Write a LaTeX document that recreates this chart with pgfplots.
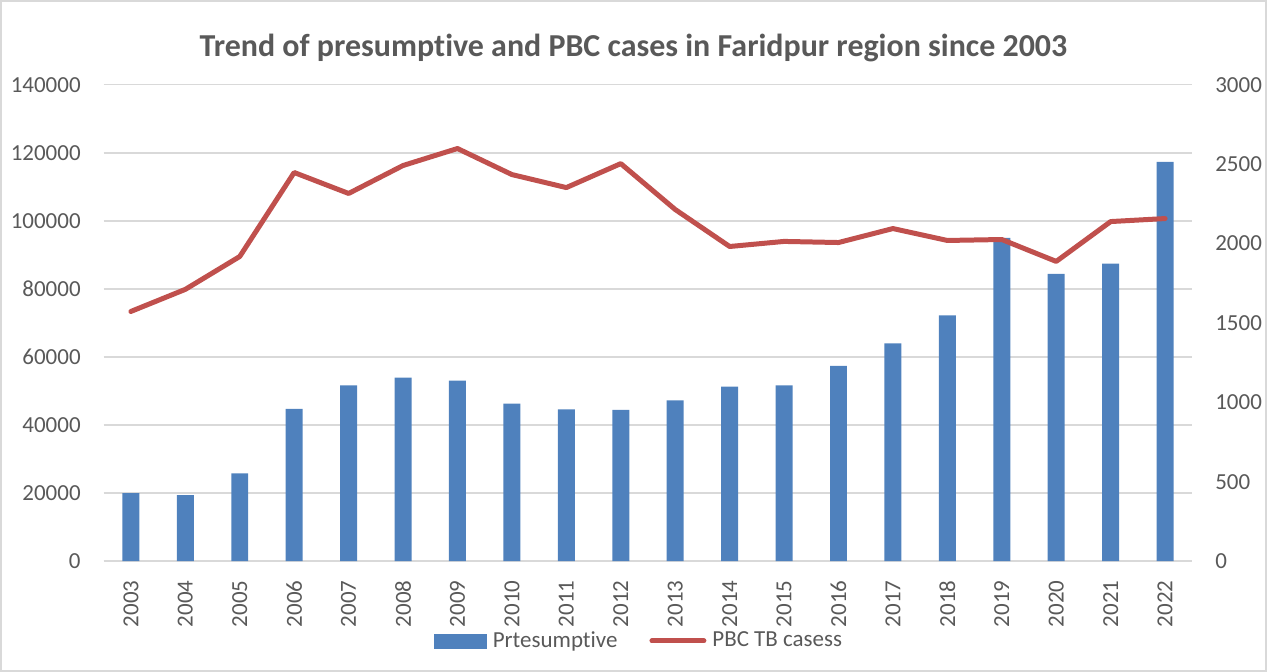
\documentclass[border=0pt]{standalone}
\usepackage{pgfplots}
\pgfplotsset{compat=1.18}
\usepackage{fontspec}
\setmainfont[Ligatures=NoCommon]{Carlito}

\definecolor{barblue}{HTML}{4F81BD}
\definecolor{linered}{HTML}{C0504D}
\definecolor{txtgray}{HTML}{595959}
\definecolor{gridgray}{HTML}{D9D9D9}

% presumptive cases (left axis)
\pgfplotstableread{
x val
0 20000
1 19400
2 25800
3 44700
4 51600
5 53900
6 53000
7 46300
8 44600
9 44400
10 47200
11 51300
12 51600
13 57400
14 64000
15 72200
16 95000
17 84400
18 87400
19 117300
}\presumptive

% PBC TB cases (right axis)
\pgfplotstableread{
x val
0 1572
1 1711
2 1918
3 2447
4 2315
5 2491
6 2598
7 2434
8 2352
9 2503
10 2214
11 1981
12 2013
13 2006
14 2094
15 2019
16 2025
17 1887
18 2138
19 2157
}\pbc

\begin{document}
\begin{tikzpicture}[font=\fontsize{11.5}{13}\selectfont, text=txtgray]
\pgfplotsset{
  common/.style={
    scale only axis, width=545pt, height=238.5pt,
    xmin=-0.5, xmax=19.5,
    tick style={draw=none},
    tick label style={text=txtgray, font=\fontsize{11.5}{13}\selectfont},
    /pgf/number format/assume math mode=true,
    scaled y ticks=false,
    yticklabel style={/pgf/number format/fixed, /pgf/number format/1000 sep={}},
  }
}
\begin{axis}[common,
  ymin=0, ymax=140000, ytick distance=20000,
  axis y line*=left, axis x line*=bottom,
  y axis line style={draw=none},
  x axis line style={draw=gridgray, line width=0.8pt},
  ymajorgrids, grid style={draw=gridgray, line width=0.8pt},
  yticklabel style={xshift=-8pt},
  xtick=data,
  xticklabels={2003,2004,2005,2006,2007,2008,2009,2010,2011,2012,2013,2014,2015,2016,2017,2018,2019,2020,2021,2022},
  xticklabel style={rotate=90, anchor=east, xshift=-2pt},
  ybar, bar width=8.5pt,
]
\addplot[fill=barblue, draw=none] table[x=x, y=val] {\presumptive};
\coordinate (ll) at (rel axis cs:0,0);
\coordinate (ur) at (rel axis cs:1,1);
\end{axis}
\begin{axis}[common,
  ymin=0, ymax=3000, ytick distance=500,
  axis y line*=right, axis x line=none,
  y axis line style={draw=none},
  yticklabel style={xshift=8pt},
  legend columns=2,
  legend style={draw=none, fill=none, at={(0.4927,-0.1677)}, anchor=center,
    font=\fontsize{11.5}{13}\selectfont, text=txtgray,
    /tikz/every even column/.append style={column sep=14pt},
    /tikz/every odd column/.append style={column sep=1pt}},
]
\addlegendimage{legend image code/.code={\fill[barblue] (0pt,-3.5pt) rectangle (26pt,3.5pt);}}
\addlegendentry{Prtesumptive}
\addplot[linered, line width=2.5pt, line join=round, line cap=round,
  legend image code/.code={\draw[linered, line width=2.5pt, line cap=round] (1pt,0pt) -- (27pt,0pt);}] table[x=x, y=val] {\pbc};
\addlegendentry{PBC TB casess}
\end{axis}
\pgfresetboundingbox
\draw[gridgray, line width=0.8pt] ([shift={(-51.5pt,-55pt)}]ll) rectangle ([shift={(37pt,42pt)}]ur);
\node[font=\fontsize{16}{18}\selectfont\bfseries, text=txtgray] at ([shift={(265.25pt,18.5pt)}]ll |- ur) {Trend of presumptive and PBC cases in Faridpur region since 2003};
\end{tikzpicture}
\end{document}
